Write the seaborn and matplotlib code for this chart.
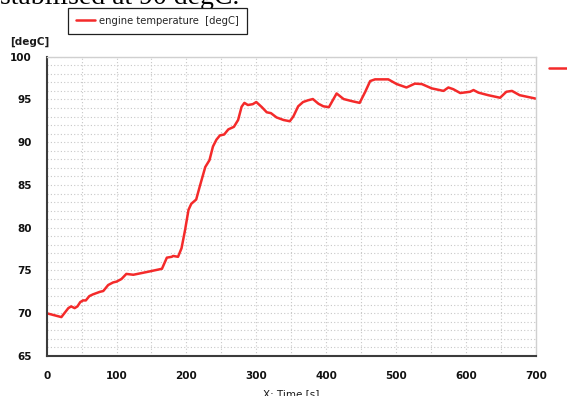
import numpy as np
import pandas as pd
import matplotlib
matplotlib.use("Agg")
import matplotlib.pyplot as plt
from matplotlib.ticker import MultipleLocator
from matplotlib.lines import Line2D
import seaborn as sns

# engine temperature
time = [0, 21, 31, 35, 40, 44, 48, 52, 56, 61, 66, 76, 81, 88, 95, 100, 107, 114, 124, 145,
        165, 172, 179, 181, 188, 193, 198, 203, 207, 214, 219, 227, 233, 238, 243, 248, 254, 260, 268, 274,
        279, 283, 288, 295, 300, 308, 315, 321, 329, 339, 348, 353, 360, 367, 374, 381, 389, 396, 404, 415,
        425, 437, 448, 456, 463, 470, 489, 501, 515, 527, 537, 551, 568, 575, 582, 592, 606, 611, 618, 632,
        649, 658, 666, 677, 700]
temp = [70.0, 69.55, 70.6, 70.8, 70.6, 70.8, 71.3, 71.5, 71.5, 72.0, 72.2, 72.5, 72.6, 73.3, 73.6, 73.7, 74.0, 74.6, 74.5, 74.85,
        75.2, 76.5, 76.6, 76.7, 76.6, 77.6, 79.7, 82.1, 82.8, 83.3, 84.8, 87.1, 87.9, 89.5, 90.3, 90.8, 90.9, 91.5, 91.8, 92.6,
        94.15, 94.6, 94.35, 94.45, 94.7, 94.1, 93.5, 93.4, 92.9, 92.6, 92.45, 93.0, 94.2, 94.7, 94.9, 95.05, 94.5, 94.2, 94.1, 95.7,
        95.05, 94.8, 94.6, 95.9, 97.15, 97.35, 97.35, 96.8, 96.4, 96.85, 96.8, 96.3, 96.0, 96.4, 96.2, 95.75, 95.9, 96.1, 95.8, 95.5,
        95.2, 95.9, 96.0, 95.5, 95.1]
series_label = "engine temperature  [degC]"
xticks = [0, 100, 200, 300, 400, 500, 600, 700]
yticks = [65, 70, 75, 80, 85, 90, 95, 100]

df = pd.DataFrame({"time": time, "temp": temp})

sns.set_style("white")
plt.rcParams["font.family"] = ["DejaVu Sans"]

red = "#f42a2a"
dark = "#3c3c3c"

fig = plt.figure(figsize=(5.67, 3.96), dpi=100)
ax = fig.add_axes([46.7 / 567, 1 - 356 / 396, (535.7 - 46.7) / 567, (356 - 56.7) / 396])

sns.lineplot(data=df, x="time", y="temp", ax=ax, color=red, linewidth=1.8, legend=False)

ax.set_xlim(0, 700)
ax.set_ylim(65, 100)
ax.set_xticks(xticks)
ax.set_yticks(yticks)
ax.xaxis.set_minor_locator(MultipleLocator(50))
ax.yaxis.set_minor_locator(MultipleLocator(1))
ax.grid(which="both", linestyle=(0, (1, 2)), color="#c8c8c8", linewidth=0.8)
ax.set_axisbelow(True)

for side in ["left", "bottom"]:
    ax.spines[side].set_color(dark)
    ax.spines[side].set_linewidth(1.5)
for side in ["top", "right"]:
    ax.spines[side].set_color("#d0d0d0")
    ax.spines[side].set_linewidth(1.0)

ax.tick_params(which="major", direction="out", length=7, width=1.2, color=dark,
               labelsize=7.5, labelcolor="#111111", pad=4)
ax.tick_params(which="minor", direction="out", length=4, width=1.0, color=dark)
for lab in ax.get_xticklabels() + ax.get_yticklabels():
    lab.set_fontweight("bold")

ax.set_xlabel("X: Time [s]", fontsize=7.5, color="#1a1a1a", labelpad=5.5)
ax.set_ylabel("")

fig.text(10 / 567, 1 - 42 / 396, "[degC]", fontsize=7.5, fontweight="bold",
         color="#1a1a1a", va="center", ha="left")

# cut-off caption text at the top of the screenshot
fig.text(0, 1 - 4.5 / 396, "stabilised at 90 degC.", fontsize=20,
         family=["Liberation Serif", "DejaVu Serif"], va="baseline", ha="left", color="black")

# main legend box above the plot
leg = fig.legend([Line2D([], [], color=red, linewidth=1.8)], [series_label],
                 loc="upper left", bbox_to_anchor=(68.3 / 567, 1 - 7.7 / 396),
                 fontsize=7.2, frameon=True, fancybox=False, handlelength=1.9,
                 handletextpad=0.4, borderpad=0.8, borderaxespad=0, framealpha=1)
leg.get_frame().set_edgecolor("#202020")
leg.get_frame().set_linewidth(0.9)

# cut-off legend entry at the right edge
fig.legend([Line2D([], [], color=red, linewidth=1.8)], [" "],
           loc="upper left", bbox_to_anchor=(549 / 567, 1 - 63.5 / 396),
           fontsize=7.5, frameon=False, handlelength=2.5, borderpad=0, borderaxespad=0)

fig.savefig("out.png", dpi=100)
